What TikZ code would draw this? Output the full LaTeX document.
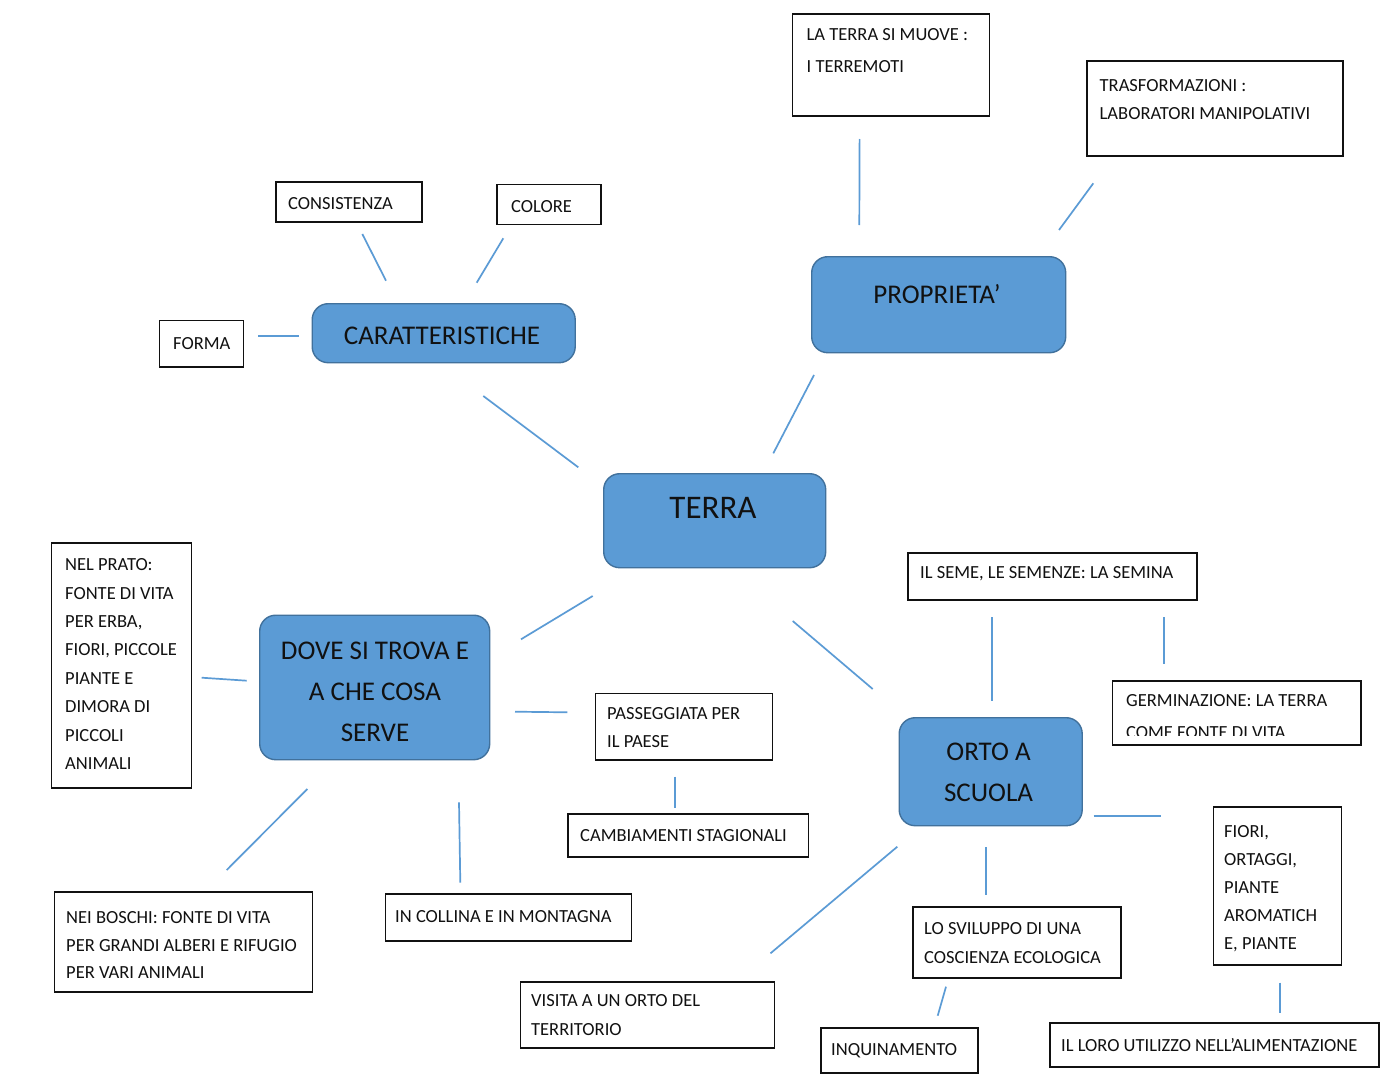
\documentclass[tikz,border=0pt]{standalone}
\usepackage{fontspec}
\setmainfont{Carlito}
\definecolor{tblue}{HTML}{5B9BD5}
\definecolor{tborder}{HTML}{41719C}
\definecolor{tline}{HTML}{5B9BD5}
\definecolor{tink}{HTML}{111111}
\begin{document}
\begin{tikzpicture}[x=1pt,y=-1pt,
  box/.style={draw=tink,line width=1.7pt,inner sep=0pt,anchor=north west},
  rbox/.style={fill=tblue,draw=tborder,line width=1.4pt,rounded corners=16pt,inner sep=0pt,anchor=north west},
  small/.style={inner sep=0pt,anchor=north west,align=left,text=tink,font=\fontsize{18.5}{28.4}\selectfont},
  smallw/.style={inner sep=0pt,anchor=north west,align=left,text=tink,font=\fontsize{18.5}{32.2}\selectfont},
  big/.style={inner sep=0pt,anchor=north,align=center,text=tink,font=\fontsize{27}{41}\selectfont},
  huge/.style={inner sep=0pt,anchor=north,align=center,text=tink,font=\fontsize{33}{40}\selectfont},
  conn/.style={draw=tline,line width=1.7pt}]
\useasboundingbox (0,0) rectangle (1380,1073);
\fill[white] (0,0) rectangle (1380,1073);

% ---- rounded main boxes
\node[rbox,minimum width=263pt,minimum height=59pt] (cara) at (311.5,303) {};
\node[rbox,minimum width=254pt,minimum height=96pt] (prop) at (811,256) {};
\node[rbox,minimum width=222pt,minimum height=94pt] (terra) at (603,473) {};
\node[rbox,minimum width=230pt,minimum height=144.5pt] (dove) at (259,614.5) {};
\node[rbox,minimum width=183pt,minimum height=108pt] (orto) at (898.5,717) {};

\node[big] (tcara) at (442,327) {CARATTERISTICHE};
\node[big] (tprop) at (937,284.5) {PROPRIETA’};
\node[huge] (tterra) at (713,497.5) {TERRA};
\node[big] (tdove) at (375,642) {DOVE SI TROVA E\\A CHE COSA\\SERVE};
\node[big] (torto) at (988.5,743) {ORTO A\\SCUOLA};

% ---- plain boxes
\node[box,minimum width=197pt,minimum height=101.5pt] (terremoti) at (791.5,13.5) {};
\node[box,minimum width=256pt,minimum height=95pt] (trasf) at (1086,60) {};
\node[box,minimum width=146pt,minimum height=40pt] (consist) at (275,181) {};
\node[box,minimum width=104pt,minimum height=40pt] (colore) at (496,183.5) {};
\node[box,minimum width=84pt,minimum height=46.5pt] (forma) at (158.5,319.5) {};
\node[box,minimum width=140pt,minimum height=245pt] (prato) at (50.5,542) {};
\node[box,minimum width=177pt,minimum height=66.5pt] (pass) at (594.5,692.5) {};
\node[box,minimum width=240.5pt,minimum height=43pt] (camb) at (567,813) {};
\node[box,minimum width=246pt,minimum height=47pt] (collina) at (384.5,893) {};
\node[box,minimum width=258pt,minimum height=100pt] (boschi) at (53.5,891) {};
\node[box,minimum width=289pt,minimum height=47pt] (seme) at (907,552) {};
\node[box,minimum width=248.5pt,minimum height=64pt] (germ) at (1111.5,680) {};
\node[box,minimum width=128pt,minimum height=158pt] (fiori) at (1212.5,806) {};
\node[box,minimum width=208pt,minimum height=71pt] (svil) at (912,906) {};
\node[box,minimum width=254pt,minimum height=66pt] (visita) at (519.5,981) {};
\node[box,minimum width=157pt,minimum height=45pt] (inquin) at (820,1027) {};
\node[box,minimum width=329pt,minimum height=44pt] (loro) at (1049,1022) {};

% ---- texts of plain boxes
\node[smallw] (tterremoti) at (806.5,28.5) {LA TERRA SI MUOVE :\\I TERREMOTI};
\node[small] (ttrasf) at (1099.5,79) {TRASFORMAZIONI :\\LABORATORI MANIPOLATIVI};
\node[small] (tconsist) at (288,197) {CONSISTENZA};
\node[small] (tcolore) at (511,200) {COLORE};
\node[small] (tforma) at (173,337) {FORMA};
\node[small] (tprato) at (65,558.5) {NEL PRATO:\\FONTE DI VITA\\PER ERBA,\\FIORI, PICCOLE\\PIANTE E\\DIMORA DI\\PICCOLI\\ANIMALI};
\node[small] (tpass) at (607,707) {PASSEGGIATA PER\\IL PAESE};
\node[small] (tcamb) at (580,829) {CAMBIAMENTI STAGIONALI};
\node[small] (tcollina) at (395,910) {IN COLLINA E IN MONTAGNA};
\node[small,font=\fontsize{18.5}{27.6}\selectfont] (tboschi) at (66,911.5) {NEI BOSCHI: FONTE DI VITA\\PER GRANDI ALBERI E RIFUGIO\\PER VARI ANIMALI};
\node[small] (tseme) at (920,566.5) {IL SEME, LE SEMENZE: LA SEMINA};
\begin{scope}
\clip (1111.5,680) rectangle (1360,735);
\node[smallw] (tgerm) at (1126,694) {GERMINAZIONE: LA TERRA\\COME FONTE DI VITA};
\end{scope}
\node[small,font=\fontsize{18.5}{28}\selectfont] (tfiori) at (1224,825) {FIORI,\\ORTAGGI,\\PIANTE\\AROMATICH\\E, PIANTE};
\node[small] (tsvil) at (924,922.5) {LO SVILUPPO DI UNA\\COSCIENZA ECOLOGICA};
\node[small,font=\fontsize{18.5}{29}\selectfont] (tvisita) at (531,994) {VISITA A UN ORTO DEL\\TERRITORIO};
\node[small] (tinquin) at (831,1043) {INQUINAMENTO};
\node[small] (tloro) at (1061,1038.5) {IL LORO UTILIZZO NELL’ALIMENTAZIONE};

% ---- connector end points
\coordinate (a1) at (859.6,139); \coordinate (b1) at (859.3,225);
\coordinate (a2) at (1093.3,183.3); \coordinate (b2) at (1059,230);
\coordinate (a3) at (362.3,234); \coordinate (b3) at (386,280.7);
\coordinate (a4) at (503.3,238.3); \coordinate (b4) at (476.7,282.7);
\coordinate (a5) at (258.3,336); \coordinate (b5) at (299.3,336);
\coordinate (a6) at (483.3,396); \coordinate (b6) at (578.3,467.3);
\coordinate (a7) at (814,375); \coordinate (b7) at (773.3,453.3);
\coordinate (a8) at (592.7,596); \coordinate (b8) at (521,639.3);
\coordinate (a9) at (792.7,621); \coordinate (b9) at (872.7,689);
\coordinate (a10) at (201.7,677.7); \coordinate (b10) at (246.7,680.7);
\coordinate (a11) at (515,711.7); \coordinate (b11) at (567.3,712.3);
\coordinate (a12) at (675,776.7); \coordinate (b12) at (675,807.7);
\coordinate (a13) at (307.3,789); \coordinate (b13) at (226.7,870);
\coordinate (a14) at (459,802.3); \coordinate (b14) at (460.3,882.7);
\coordinate (a15) at (992,617); \coordinate (b15) at (992,701);
\coordinate (a16) at (1164.3,617); \coordinate (b16) at (1164.3,664.3);
\coordinate (a17) at (1093.7,815.7); \coordinate (b17) at (1161,815.7);
\coordinate (a18) at (897.3,846.7); \coordinate (b18) at (770.5,953.3);
\coordinate (a19) at (986,847.3); \coordinate (b19) at (986,895);
\coordinate (a20) at (946,986.7); \coordinate (b20) at (937.7,1015.7);
\coordinate (a21) at (1280,982.7); \coordinate (b21) at (1280,1012.7);

\foreach \i in {1,...,21} {\draw[conn] (a\i) -- (b\i);}
\end{tikzpicture}
\end{document}
